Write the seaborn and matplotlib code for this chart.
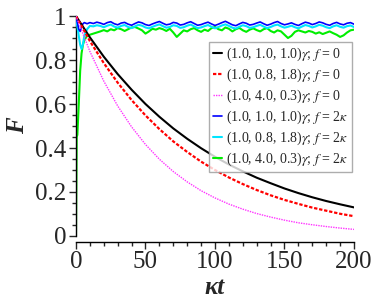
"""Fidelity F vs kappa*t for three noise ratios, with and without feedback."""

import matplotlib
matplotlib.use("Agg")
import matplotlib.pyplot as plt
import numpy as np
import pandas as pd
import seaborn as sns
from matplotlib.ticker import MultipleLocator

# decay curves, f = 0 (read every 10 units of kappa*t)
t_decay = [0, 10, 20, 30, 40, 50, 60, 70, 80, 90, 100,
           110, 120, 130, 140, 150, 160, 170, 180, 190, 200]
f_black = [1.0, 0.903, 0.815, 0.736, 0.665, 0.600, 0.542, 0.489, 0.442, 0.399, 0.360,
           0.325, 0.294, 0.265, 0.240, 0.216, 0.195, 0.176, 0.159, 0.144, 0.130]
f_red = [1.0, 0.886, 0.786, 0.697, 0.618, 0.548, 0.486, 0.430, 0.382, 0.338, 0.300,
         0.266, 0.236, 0.209, 0.185, 0.164, 0.146, 0.129, 0.115, 0.101, 0.090]
f_magenta = [1.0, 0.839, 0.704, 0.591, 0.496, 0.416, 0.349, 0.293, 0.246, 0.206, 0.173,
             0.145, 0.122, 0.102, 0.086, 0.072, 0.060, 0.051, 0.043, 0.036, 0.030]

# feedback curves, f = 2 kappa
t_early = [0, 0.5, 1, 2, 3, 4, 5, 6, 8, 10]
t_late = list(np.arange(12.5, 200.1, 2.5))
t_fb = t_early + t_late

f_blue = [1.0, 0.985, 0.97, 0.94, 0.93, 0.95, 0.965, 0.97, 0.965, 0.97,
          0.966, 0.972, 0.968, 0.962, 0.970, 0.974, 0.965, 0.960, 0.968, 0.971,
          0.963, 0.958, 0.966, 0.973, 0.969, 0.961, 0.957, 0.964, 0.970, 0.975,
          0.967, 0.960, 0.963, 0.971, 0.968, 0.959, 0.962, 0.969, 0.974, 0.966,
          0.958, 0.961, 0.967, 0.972, 0.964, 0.957, 0.963, 0.970, 0.976, 0.968,
          0.960, 0.956, 0.964, 0.971, 0.967, 0.959, 0.962, 0.968, 0.973, 0.965,
          0.958, 0.963, 0.970, 0.975, 0.966, 0.960, 0.964, 0.969, 0.962, 0.957,
          0.965, 0.972, 0.968, 0.961, 0.966, 0.973, 0.969, 0.962, 0.958, 0.966,
          0.971, 0.964, 0.960, 0.967, 0.970, 0.963]
f_cyan = [1.0, 0.975, 0.95, 0.91, 0.87, 0.85, 0.87, 0.91, 0.94, 0.955,
          0.953, 0.958, 0.955, 0.949, 0.956, 0.961, 0.952, 0.947, 0.955, 0.959,
          0.950, 0.945, 0.953, 0.960, 0.956, 0.948, 0.944, 0.951, 0.957, 0.962,
          0.954, 0.947, 0.950, 0.958, 0.955, 0.946, 0.949, 0.956, 0.961, 0.953,
          0.945, 0.948, 0.954, 0.959, 0.951, 0.944, 0.950, 0.957, 0.962, 0.955,
          0.947, 0.943, 0.951, 0.958, 0.954, 0.946, 0.949, 0.955, 0.960, 0.952,
          0.945, 0.950, 0.957, 0.961, 0.953, 0.947, 0.951, 0.956, 0.949, 0.944,
          0.952, 0.959, 0.955, 0.948, 0.953, 0.960, 0.956, 0.949, 0.945, 0.953,
          0.958, 0.951, 0.947, 0.954, 0.957, 0.950]
f_green = [0.0, 0.45, 0.46, 0.6, 0.75, 0.83, 0.87, 0.89, 0.91, 0.915,
           0.92, 0.925, 0.93, 0.936, 0.93, 0.94, 0.935, 0.945, 0.94, 0.932,
           0.94, 0.948, 0.95, 0.943, 0.935, 0.92, 0.93, 0.942, 0.938, 0.945,
           0.94, 0.932, 0.942, 0.925, 0.905, 0.92, 0.935, 0.93, 0.94, 0.945,
           0.935, 0.928, 0.938, 0.932, 0.945, 0.95, 0.94, 0.935, 0.948, 0.942,
           0.93, 0.94, 0.946, 0.935, 0.928, 0.938, 0.944, 0.936, 0.93, 0.94,
           0.945, 0.932, 0.925, 0.935, 0.93, 0.915, 0.9, 0.91, 0.928, 0.935,
           0.93, 0.925, 0.932, 0.928, 0.92, 0.926, 0.918, 0.924, 0.93, 0.922,
           0.915, 0.905, 0.912, 0.925, 0.935, 0.938]

labels = [
    r"(1.0, 1.0, 1.0)$\gamma$; $f$ = 0",
    r"(1.0, 0.8, 1.8)$\gamma$; $f$ = 0",
    r"(1.0, 4.0, 0.3)$\gamma$; $f$ = 0",
    r"(1.0, 1.0, 1.0)$\gamma$; $f$ = 2$\kappa$",
    r"(1.0, 0.8, 1.8)$\gamma$; $f$ = 2$\kappa$",
    r"(1.0, 4.0, 0.3)$\gamma$; $f$ = 2$\kappa$",
]

sns.set_style("ticks")
plt.rcParams["font.family"] = ["Liberation Serif", "DejaVu Serif"]
plt.rcParams["mathtext.fontset"] = "stix"

fig = plt.figure(figsize=(3.79, 3.08), dpi=100)
ax = fig.add_axes([0.2005, 0.2338, 0.7335, 0.7142])

# (t, F, colour, style, width, zorder)
series = [
    (t_decay, f_black, "black", "-", 1.5, 5),
    (t_decay, f_red, "#ff0000", (0, (1.5, 0.8)), 1.6, 5),
    (t_decay, f_magenta, "#ff33ff", (0, (1, 0.8)), 1.0, 5),
    (t_fb, f_blue, "#0000ff", "-", 1.2, 4),
    (t_fb, f_cyan, "#00e5ff", "-", 1.5, 3),
    (t_fb, f_green, "#00ee00", "-", 1.5, 2),
]
for (tx, fy, col, ls, lw, z), lab in zip(series, labels):
    df = pd.DataFrame({"t": tx, "F": fy})
    sns.lineplot(data=df, x="t", y="F", color=col, linestyle=ls,
                 linewidth=lw, label=lab, zorder=z, ax=ax)

ax.set_xlim(0, 200)
ax.set_ylim(0, 1.0)
ax.xaxis.set_major_locator(MultipleLocator(50))
ax.xaxis.set_minor_locator(MultipleLocator(10))
ax.yaxis.set_minor_locator(MultipleLocator(0.05))
ax.set_yticks([0, 0.2, 0.4, 0.6, 0.8, 1.0])
ax.set_yticklabels(["0", "0.2", "0.4", "0.6", "0.8", "1"])

for s in ["top", "right"]:
    ax.spines[s].set_visible(False)
ax.spines["bottom"].set_position(("outward", 4))
for s in ["left", "bottom"]:
    ax.spines[s].set_linewidth(1.0)
    ax.spines[s].set_color("black")

ax.tick_params(axis="both", which="major", length=5, width=1,
               labelsize=18, direction="out", pad=2)
ax.tick_params(axis="both", which="minor", length=3, width=1, direction="out")

ax.set_xlabel("κt", fontsize=18, fontweight="bold", fontstyle="italic",
              labelpad=2)
ax.set_ylabel("F", fontsize=18, fontweight="bold", fontstyle="italic",
              labelpad=4)

leg = ax.legend(loc="upper right", bbox_to_anchor=(0.993, 0.882),
                borderaxespad=0, fontsize=10, handlelength=0.6,
                handletextpad=0.3, labelspacing=0.25, borderpad=0.3,
                fancybox=False, frameon=True)
leg.get_frame().set_edgecolor("#999999")
leg.get_frame().set_linewidth(1.0)

fig.savefig("out.png", dpi=100)
